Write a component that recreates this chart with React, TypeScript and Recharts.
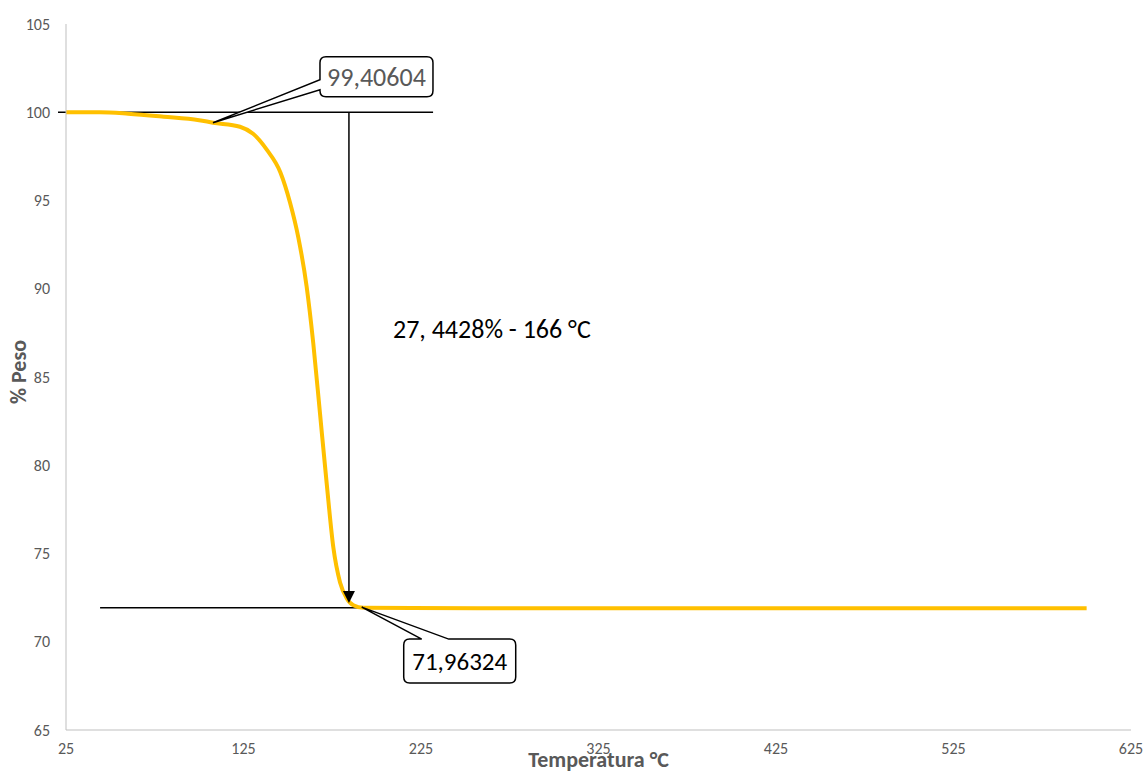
import { LineChart, Line, XAxis, YAxis, ReferenceLine, ReferenceDot, Label } from 'recharts';

// TGA curve
const temps = [25, 44, 60, 80, 100, 107.8, 123, 130.4, 138.1, 145.8, 151.2, 155.9, 160.6, 164.3, 168.1, 171.9, 175.6, 179.4, 183.1, 186.9, 192.5, 220, 300, 400, 500, 600];
const weights = [100.0, 100.0, 99.92, 99.75, 99.55, 99.41, 99.18, 98.78, 97.88, 96.59, 94.89, 92.9, 90.1, 86.92, 82.93, 78.94, 75.35, 73.36, 72.47, 72.07, 71.92, 71.91, 71.9, 71.9, 71.9, 71.9];

const xTicks = [25, 125, 225, 325, 425, 525, 625];
const yTicks = [65, 70, 75, 80, 85, 90, 95, 100, 105];

const startPoint = { x: 107.8, y: 99.40604, label: '99,40604' };
const endPoint = { x: 191.6, y: 71.96324, label: '71,96324' };
const lossLabel = { x: 209.2, y: 87.72, text: '27, 4428% - 166 °C' };
const arrowX = 184.4;
const arrowTipY = 72.2;

const data = temps.map((t, i) => ({ t, w: weights[i] }));

const font = "Carlito, Calibri, 'Liberation Sans', sans-serif";
const axisColor = '#595959';

const Callout = (props: any) => {
  const { cx, cy, text, color, dir, size } = props;
  const r = 6;
  let d: string;
  let tx: number;
  let ty: number;
  if (dir === 'up') {
    const x0 = cx + 107, y0 = cy - 66, x1 = cx + 220, y1 = cy - 26;
    d = `M${x0 + r},${y0} H${x1 - r} Q${x1},${y0} ${x1},${y0 + r} V${y1 - r} Q${x1},${y1} ${x1 - r},${y1} H${x0 + r} Q${x0},${y1} ${x0},${y1 - r} V${cy - 33} L${cx},${cy} L${x0},${cy - 43} V${y0 + r} Q${x0},${y0} ${x0 + r},${y0} Z`;
    tx = (x0 + x1) / 2;
    ty = (y0 + y1) / 2;
  } else {
    const x0 = cx + 42, y0 = cy + 32, x1 = cx + 154, y1 = cy + 76;
    d = `M${x0 + r},${y0} H${cx + 60} L${cx},${cy} L${cx + 87},${y0} H${x1 - r} Q${x1},${y0} ${x1},${y0 + r} V${y1 - r} Q${x1},${y1} ${x1 - r},${y1} H${x0 + r} Q${x0},${y1} ${x0},${y1 - r} V${y0 + r} Q${x0},${y0} ${x0 + r},${y0} Z`;
    tx = (x0 + x1) / 2;
    ty = (y0 + y1) / 2;
  }
  return (
    <g>
      <path d={d} fill="#fff" stroke="#000" strokeWidth={1.5} />
      <text x={tx} y={ty} textAnchor="middle" dominantBaseline="central" fontSize={size} fontFamily={font} fill={color}>
        {text}
      </text>
    </g>
  );
};

const Arrow = (props: any) => {
  const { x1, y1, x2, y2 } = props;
  return (
    <g>
      <line x1={x1} y1={y1} x2={x2} y2={y2 - 10} stroke="#000" strokeWidth={1.5} />
      <polygon points={`${x2 - 6},${y2 - 12} ${x2 + 6},${y2 - 12} ${x2},${y2}`} fill="#000" />
    </g>
  );
};

const App = () => {
  return (
    <div style={{ position: 'absolute', left: 0, top: 0 }}>
      <LineChart width={1147} height={773} data={data} margin={{ top: 24, right: 16, bottom: 0, left: 0 }}>
        <XAxis
          dataKey="t"
          type="number"
          domain={[25, 625]}
          ticks={xTicks}
          stroke="#bfbfbf"
          tickLine={false}
          tickSize={0}
          tickMargin={13}
          height={43}
          tick={{ fill: axisColor, fontSize: 16, fontFamily: font }}
        >
          <Label
            content={(p: any) => (
              <text x={p.viewBox.x + p.viewBox.width / 2} y={767} textAnchor="middle" fontSize={22} fontWeight="bold" fontFamily={font} fill={axisColor}>
                Temperatura °C
              </text>
            )}
          />
        </XAxis>
        <YAxis
          type="number"
          domain={[65, 105]}
          ticks={yTicks}
          stroke="#bfbfbf"
          tickLine={false}
          tickSize={0}
          tickMargin={16}
          width={66}
          tick={{ fill: axisColor, fontSize: 16, fontFamily: font }}
        >
          <Label
            content={(p: any) => {
              const cy = p.viewBox.y + p.viewBox.height / 2 - 5;
              return (
                <text x={18} y={cy} transform={`rotate(-90 18 ${cy})`} textAnchor="middle" dominantBaseline="central" fontSize={22} fontWeight="bold" fontFamily={font} fill={axisColor}>
                  % Peso
                </text>
              );
            }}
          />
        </YAxis>
        <ReferenceLine
          segment={[{ x: 20.5, y: 100 }, { x: 231.8, y: 100 }]}
          stroke="#000"
          strokeWidth={1.5}
          ifOverflow="visible"
        />
        <ReferenceLine
          segment={[{ x: 44.2, y: 71.92 }, { x: 254.3, y: 71.92 }]}
          stroke="#000"
          strokeWidth={1.5}
          ifOverflow="visible"
        />
        <Line
          type="monotone"
          dataKey="w"
          stroke="#FFC000"
          strokeWidth={4}
          dot={false}
          isAnimationActive={false}
        />
        <ReferenceLine
          segment={[{ x: arrowX, y: 100 }, { x: arrowX, y: arrowTipY }]}
          ifOverflow="visible"
          shape={(p: any) => <Arrow {...p} />}
        />
        <ReferenceDot
          x={startPoint.x}
          y={startPoint.y}
          r={0}
          ifOverflow="visible"
          shape={(p: any) => <Callout {...p} text={startPoint.label} color="#595959" dir="up" size={26} />}
        />
        <ReferenceDot
          x={endPoint.x}
          y={endPoint.y}
          r={0}
          ifOverflow="visible"
          shape={(p: any) => <Callout {...p} text={endPoint.label} color="#000" dir="down" size={25} />}
        />
        <ReferenceDot
          x={lossLabel.x}
          y={lossLabel.y}
          r={0}
          ifOverflow="visible"
          shape={(p: any) => (
            <text x={p.cx} y={p.cy} dominantBaseline="central" fontSize={26} fontFamily={font} fill="#000">
              {lossLabel.text}
            </text>
          )}
        />
      </LineChart>
    </div>
  );
};

export default App;
